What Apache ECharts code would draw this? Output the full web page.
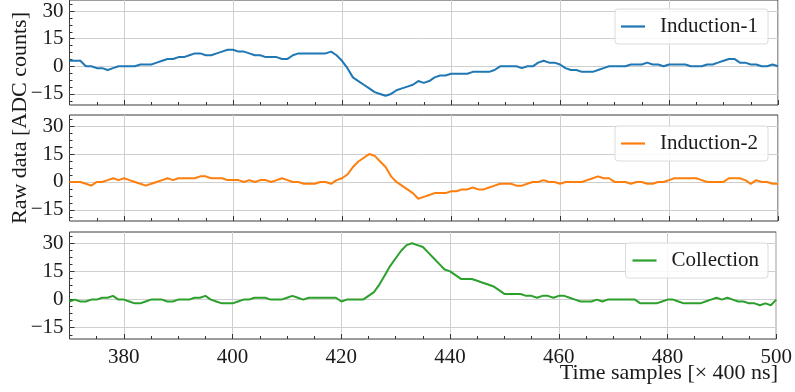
<!DOCTYPE html>
<html><head><meta charset="utf-8">
<script src="https://cdn.jsdelivr.net/npm/echarts@6/dist/echarts.min.js"></script>
<style>html,body{margin:0;padding:0;background:#fff}#c{width:795px;height:392px}</style>
</head><body><div id="c"></div>
<script>
const startSample = 370;
const seriesNames = ['Induction-1', 'Induction-2', 'Collection'];
const seriesColors = ['#1f77b4', '#ff7f0e', '#2ca02c'];
const induction1 = [
  3,3,3,0,0,-1,-1,-2,-1,0,
  0,0,0,1,1,1,2,3,4,4,
  5,5,6,7,7,6,6,7,8,9,
  9,8,8,7,6,6,5,5,5,4,
  4,6,7,7,7,7,7,7,8,6,
  3,-1,-6,-8,-10,-12,-14,-15,-16,-15,
  -13,-12,-11,-10,-8,-9,-8,-6,-5,-5,
  -4,-4,-4,-4,-3,-3,-3,-3,-2,0,
  0,0,0,-1,0,0,2,3,2,2,
  1,-1,-2,-2,-3,-3,-3,-2,-1,0,
  0,0,0,1,1,1,2,1,1,0,
  1,1,1,1,0,0,0,1,1,2,
  3,4,4,2,2,1,1,0,0,1,
  0
];
const induction2 = [
  0,0,0,-1,-2,0,0,1,2,1,
  2,1,0,-1,-2,-1,0,1,2,1,
  2,2,2,2,3,3,2,2,2,1,
  1,1,0,1,0,1,1,0,1,2,
  1,0,0,-1,-1,-1,0,0,-1,1,
  2,4,8,11,13,15,14,11,8,3,
  0,-2,-4,-6,-9,-8,-7,-6,-6,-6,
  -5,-5,-4,-4,-3,-4,-4,-3,-2,-1,
  -1,-1,-2,-2,-1,0,0,1,0,0,
  -1,0,0,0,0,1,2,3,2,2,
  0,0,0,-1,0,0,-1,-1,0,0,
  1,2,2,2,2,2,1,0,0,0,
  0,2,2,2,1,-1,1,0,0,-1,
  -1
];
const collection = [
  -1,0,-1,-1,0,0,1,1,2,0,
  0,-1,-2,-2,-1,0,0,0,-1,-1,
  0,0,0,1,1,2,0,-1,-2,-2,
  -2,-1,0,0,1,1,1,0,0,0,
  1,2,1,0,1,1,1,1,1,1,
  -1,0,0,0,0,2,4,8,13,18,
  22,26,29,30,29,28,25,22,19,16,
  15,13,11,11,11,10,9,8,7,5,
  3,3,3,3,2,2,1,2,2,1,
  2,2,1,0,-1,-1,-1,0,-1,0,
  0,0,0,0,0,-2,-2,-2,-2,-1,
  0,0,-1,-2,-2,-2,-2,-1,0,1,
  0,1,0,-1,-1,-2,-2,-3,-2,-3,
  0
];
const xMajorTicks = [380, 400, 420, 440, 460, 480, 500];
const xMinorTicks = [375, 385, 390, 395, 405, 410, 415, 425, 430, 435, 445, 450, 455, 465, 470, 475, 485, 490, 495];
const yMajorTicks = [-15, 0, 15, 30];
const yMinorTicks = [-18.75, -11.25, -7.5, -3.75, 3.75, 7.5, 11.25, 18.75, 22.5, 26.25, 33.75];
const xLabel = 'Time samples [× 400 ns]';
const yLabel = 'Raw data [ADC counts]';

const allSeries = [induction1, induction2, collection];
const FONT = 'Liberation Serif';
const TXT = '#1a1a1a';
const grids = [
  {top: -2, height: 107},
  {top: 115, height: 106},
  {top: 232, height: 107}
];
const legendPos = [
  {top: 9, right: 27, pad: [7, 10, 7, 6]},
  {top: 126, right: 27, pad: [7, 10, 7, 6]},
  {top: 243, right: 27, pad: [7, 9, 7, 7]}
];
const fmtY = v => (v < 0 ? '\u2212' + Math.abs(v) : String(v));

const option = {
  animation: false,
  backgroundColor: '#fff',
  grid: grids.map(g => ({left: 69.5, right: 17, top: g.top, height: g.height, show: true, borderColor: '#3a3a3a', borderWidth: 1, backgroundColor: 'transparent'})),
  xAxis: [],
  yAxis: [],
  series: [],
  legend: [],
  graphic: [
    {type: 'text', x: 778, y: 373, style: {text: xLabel, align: 'right', verticalAlign: 'middle', fontSize: 22, fontFamily: FONT, fill: TXT}},
    {type: 'text', x: 20, y: 118, rotation: Math.PI / 2, style: {text: yLabel, align: 'center', verticalAlign: 'middle', fontSize: 22, fontFamily: FONT, fill: TXT}}
  ]
};

for (let i = 0; i < 3; i++) {
  option.xAxis.push({
    gridIndex: i, type: 'value', min: 370, max: 500, position: 'bottom',
    axisLine: {show: false, onZero: false},
    axisTick: {show: true, inside: true, length: 5, customValues: xMajorTicks, lineStyle: {color: '#333', width: 1}},
    axisLabel: {show: i === 2, customValues: xMajorTicks, fontSize: 21, fontFamily: FONT, color: TXT, margin: 8},
    splitLine: {show: true, lineStyle: {color: '#cfcfcf', width: 1}}
  });
  option.xAxis.push({
    gridIndex: i, type: 'value', min: 370, max: 500, position: 'bottom',
    axisLine: {show: false, onZero: false},
    axisTick: {show: true, inside: true, length: 3, customValues: xMinorTicks, lineStyle: {color: '#333', width: 1}},
    axisLabel: {show: false},
    splitLine: {show: false}
  });
  option.yAxis.push({
    gridIndex: i, type: 'value', min: -21, max: 36, position: 'left',
    axisLine: {show: false, onZero: false},
    axisTick: {show: true, inside: true, length: 5, customValues: yMajorTicks, lineStyle: {color: '#333', width: 1}},
    axisLabel: {show: true, customValues: yMajorTicks, formatter: fmtY, fontSize: 21, fontFamily: FONT, color: TXT, margin: 6},
    splitLine: {show: true, lineStyle: {color: '#cfcfcf', width: 1}}
  });
  option.yAxis.push({
    gridIndex: i, type: 'value', min: -21, max: 36, position: 'left',
    axisLine: {show: false, onZero: false},
    axisTick: {show: true, inside: true, length: 3, customValues: yMinorTicks, lineStyle: {color: '#333', width: 1}},
    axisLabel: {show: false},
    splitLine: {show: false}
  });
  option.series.push({
    name: seriesNames[i], type: 'line', xAxisIndex: 2 * i, yAxisIndex: 2 * i,
    data: allSeries[i].map((v, k) => [startSample + k, v]),
    showSymbol: false, symbol: 'none', smooth: false, clip: true,
    lineStyle: {color: seriesColors[i], width: 2},
    itemStyle: {color: seriesColors[i]},
    z: 5
  });
  option.legend.push({
    data: [seriesNames[i]], top: legendPos[i].top, right: legendPos[i].right,
    selectedMode: false, icon: 'rect', itemWidth: 24, itemHeight: 2.2, itemGap: 0,
    padding: legendPos[i].pad, backgroundColor: 'rgba(255,255,255,0.85)',
    borderColor: '#dcdcdc', borderWidth: 1, borderRadius: 3,
    textStyle: {fontSize: 21, fontFamily: FONT, color: TXT, padding: [0, 0, 0, 10]}
  });
}

const chart = echarts.init(document.getElementById('c'), null, {renderer: 'canvas'});
chart.setOption(option);
</script>
</body></html>
